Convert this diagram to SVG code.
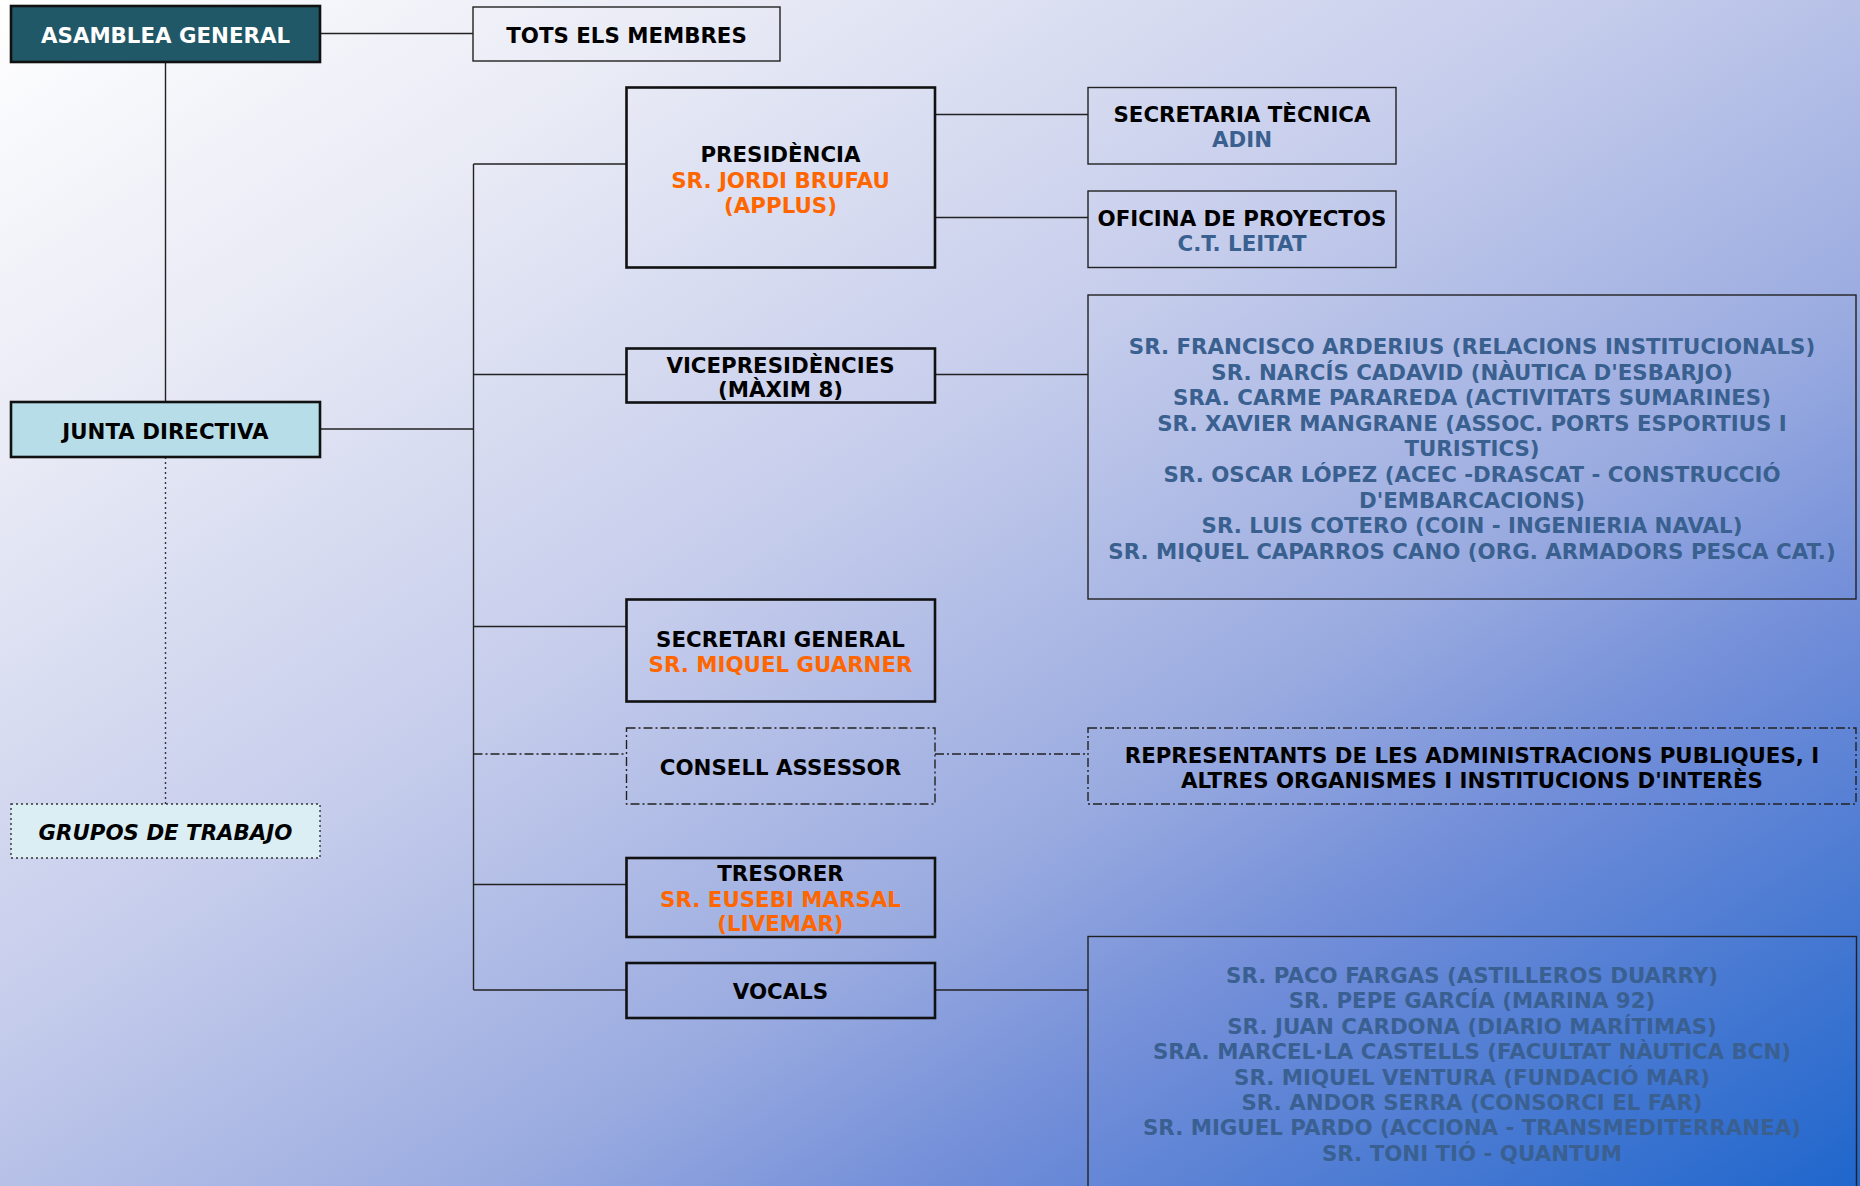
<svg xmlns="http://www.w3.org/2000/svg" width="1860" height="1186" viewBox="0 0 1860 1186">
<defs>
<linearGradient id="bg" x1="0" y1="0" x2="1" y2="1">
<stop offset="0" stop-color="#ffffff"/>
<stop offset="0.2" stop-color="#e8eaf5"/>
<stop offset="0.43" stop-color="#c6cdec"/>
<stop offset="0.63" stop-color="#9aabe0"/>
<stop offset="0.76" stop-color="#6f8cd8"/>
<stop offset="1" stop-color="#1f66cc"/>
</linearGradient>
<style>
text{font-family:"DejaVu Sans",Verdana,sans-serif;font-weight:bold;font-size:21.33px;text-anchor:middle;fill:#000}
.thick{fill:none;stroke:#111;stroke-width:2.6}
.thin{fill:none;stroke:#222;stroke-width:1.4}
.dd{fill:none;stroke:#222;stroke-width:1.4;stroke-dasharray:9 3 2 3}
.dot{fill:none;stroke:#333;stroke-width:1.4;stroke-dasharray:2 3}
.ln{stroke:#222;stroke-width:1.4;fill:none}
.or{fill:#ff6600}
.bl{fill:#39608f}
.bl2{fill:#3a6092}
</style>
</defs>
<rect x="0" y="0" width="1860" height="1186" fill="url(#bg)"/>

<g id="connectors">
<line class="ln" x1="320" y1="33.5" x2="473" y2="33.5"/>
<line class="ln" x1="165.5" y1="62" x2="165.5" y2="402"/>
<line class="dot" x1="165.5" y1="457" x2="165.5" y2="804"/>
<line class="ln" x1="320" y1="429" x2="473.5" y2="429"/>
<line class="ln" x1="473.5" y1="164" x2="473.5" y2="990"/>
<line class="ln" x1="473.5" y1="164" x2="626" y2="164"/>
<line class="ln" x1="473.5" y1="374.5" x2="626" y2="374.5"/>
<line class="ln" x1="473.5" y1="626.5" x2="626" y2="626.5"/>
<line class="dd" x1="473.5" y1="754" x2="626" y2="754"/>
<line class="ln" x1="473.5" y1="884.5" x2="626" y2="884.5"/>
<line class="ln" x1="473.5" y1="990" x2="626" y2="990"/>
<line class="ln" x1="935" y1="114.5" x2="1088" y2="114.5"/>
<line class="ln" x1="935" y1="217.5" x2="1088" y2="217.5"/>
<line class="ln" x1="935" y1="374.5" x2="1088" y2="374.5"/>
<line class="dd" x1="935" y1="754" x2="1088" y2="754"/>
<line class="ln" x1="935" y1="990" x2="1088" y2="990"/>
</g>

<g id="asamblea">
<rect x="11" y="6" width="309" height="56" fill="#215867" stroke="#111" stroke-width="2.6"/>
<text x="165.5" y="42.5" fill="#ffffff" style="fill:#ffffff">ASAMBLEA GENERAL</text>
</g>

<g id="tots">
<rect class="thin" x="473" y="7" width="307" height="54"/>
<text x="626.5" y="42.5">TOTS ELS MEMBRES</text>
</g>

<g id="junta">
<rect x="11" y="402" width="309" height="55" fill="#b7dde8" stroke="#111" stroke-width="2.6"/>
<text x="165.5" y="438.5">JUNTA DIRECTIVA</text>
</g>

<g id="grupos">
<rect x="11" y="804" width="309" height="54" fill="#daeef3" stroke="#333" stroke-width="1.4" stroke-dasharray="2 3"/>
<text x="165.5" y="840" font-style="italic">GRUPOS DE TRABAJO</text>
</g>

<g id="presidencia">
<rect class="thick" x="626.5" y="87.5" width="308.5" height="180"/>
<text x="780.5" y="161.5">PRESIDÈNCIA</text>
<text class="or" x="780.5" y="187.5">SR. JORDI BRUFAU</text>
<text class="or" x="780.5" y="213">(APPLUS)</text>
</g>

<g id="secretaria-tecnica">
<rect class="thin" x="1088" y="87.5" width="308" height="76.5"/>
<text x="1242" y="121.5">SECRETARIA TÈCNICA</text>
<text class="bl" x="1242" y="147">ADIN</text>
</g>

<g id="oficina">
<rect class="thin" x="1088" y="191" width="308" height="76.5"/>
<text x="1242" y="225.5">OFICINA DE PROYECTOS</text>
<text class="bl" x="1242" y="250.5">C.T. LEITAT</text>
</g>

<g id="vicepresidencies">
<rect class="thick" x="626.5" y="348.5" width="308.5" height="54"/>
<text x="780.5" y="372.5">VICEPRESIDÈNCIES</text>
<text x="780.5" y="397">(MÀXIM 8)</text>
</g>

<g id="vice-list">
<rect class="thin" x="1088" y="295" width="768" height="304"/>
<text class="bl" x="1472" y="354">SR. FRANCISCO ARDERIUS (RELACIONS INSTITUCIONALS)</text>
<text class="bl" x="1472" y="379.6">SR. NARCÍS CADAVID (NÀUTICA D'ESBARJO)</text>
<text class="bl" x="1472" y="405.2">SRA. CARME PARAREDA (ACTIVITATS SUMARINES)</text>
<text class="bl" x="1472" y="430.8">SR. XAVIER MANGRANE (ASSOC. PORTS ESPORTIUS I</text>
<text class="bl" x="1472" y="456.4">TURISTICS)</text>
<text class="bl" x="1472" y="482">SR. OSCAR LÓPEZ (ACEC -DRASCAT - CONSTRUCCIÓ</text>
<text class="bl" x="1472" y="507.6">D'EMBARCACIONS)</text>
<text class="bl" x="1472" y="533.2">SR. LUIS COTERO (COIN - INGENIERIA NAVAL)</text>
<text class="bl" x="1472" y="558.8">SR. MIQUEL CAPARROS CANO (ORG. ARMADORS PESCA CAT.)</text>
</g>

<g id="secretari-general">
<rect class="thick" x="626.5" y="599.5" width="308.5" height="102"/>
<text x="780.5" y="646.5">SECRETARI GENERAL</text>
<text class="or" x="780.5" y="671.5">SR. MIQUEL GUARNER</text>
</g>

<g id="consell">
<rect class="dd" x="626.5" y="728" width="308.5" height="76"/>
<text x="780.5" y="775">CONSELL ASSESSOR</text>
</g>

<g id="representants">
<rect class="dd" x="1088" y="728" width="768" height="76"/>
<text x="1472" y="762.5">REPRESENTANTS DE LES ADMINISTRACIONS PUBLIQUES, I</text>
<text x="1472" y="787.5">ALTRES ORGANISMES I INSTITUCIONS D'INTERÈS</text>
</g>

<g id="tresorer">
<rect class="thick" x="626.5" y="858" width="308.5" height="79"/>
<text x="780.5" y="880.5">TRESORER</text>
<text class="or" x="780.5" y="906.5">SR. EUSEBI MARSAL</text>
<text class="or" x="780.5" y="931">(LIVEMAR)</text>
</g>

<g id="vocals">
<rect class="thick" x="626.5" y="963" width="308.5" height="55"/>
<text x="780.5" y="998.5">VOCALS</text>
</g>

<g id="vocals-list">
<rect class="thin" x="1088" y="936.5" width="768.5" height="260"/>
<text class="bl2" x="1472" y="983">SR. PACO FARGAS (ASTILLEROS DUARRY)</text>
<text class="bl2" x="1472" y="1008.4">SR. PEPE GARCÍA (MARINA 92)</text>
<text class="bl2" x="1472" y="1033.8">SR. JUAN CARDONA (DIARIO MARÍTIMAS)</text>
<text class="bl2" x="1472" y="1059.2">SRA. MARCEL·LA CASTELLS (FACULTAT NÀUTICA BCN)</text>
<text class="bl2" x="1472" y="1084.6">SR. MIQUEL VENTURA (FUNDACIÓ MAR)</text>
<text class="bl2" x="1472" y="1110">SR. ANDOR SERRA (CONSORCI EL FAR)</text>
<text class="bl2" x="1472" y="1135.4">SR. MIGUEL PARDO (ACCIONA - TRANSMEDITERRANEA)</text>
<text class="bl2" x="1472" y="1160.8">SR. TONI TIÓ - QUANTUM</text>
</g>
</svg>
